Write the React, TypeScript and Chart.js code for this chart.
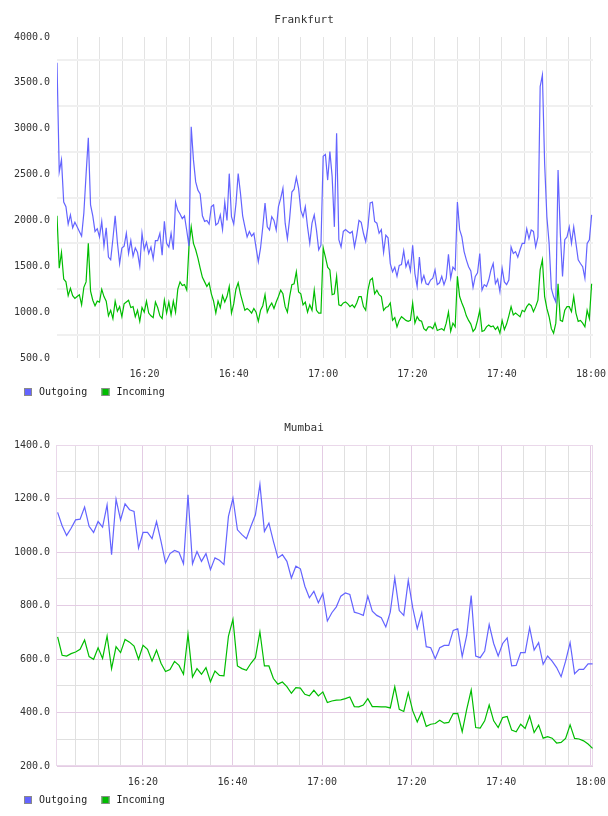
import React, { useEffect, useRef } from "react";
import { Chart, registerables } from "chart.js";

Chart.register(...registerables);

// Sample times are minutes after 16:00.
const FRANKFURT_START = 0.4;
const FRANKFURT_STEP = 0.501;

const frankfurtOutgoing = [
  3720, 2530, 2660, 2200, 2150, 1960, 2060, 1920, 1980, 1930,
  1880, 1830, 2080, 2500, 2900, 2170, 2050, 1880, 1910, 1820,
  1990, 1720, 1920, 1600, 1570, 1800, 2050, 1760, 1530, 1700,
  1720, 1860, 1640, 1780, 1610, 1700, 1650, 1500, 1860, 1680,
  1760, 1640, 1710, 1580, 1780, 1780, 1860, 1620, 1990, 1750,
  1710, 1860, 1680, 2200, 2110, 2070, 2020, 2050, 1890, 1720,
  3020, 2660, 2420, 2330, 2290, 2050, 1990, 2000, 1960, 2150,
  2170, 1950, 1970, 2060, 1900, 2200, 2000, 2510, 2040, 1960,
  2180, 2510,
  2300, 2050, 1930, 1820, 1880, 1830, 1860, 1700, 1550, 1700,
  1930, 2190, 1930, 1895, 2040, 2000, 1895, 2150, 2240, 2350,
  1970, 1800, 2020, 2310, 2340, 2470, 2350, 2110, 2040, 2150,
  1930, 1750, 1970, 2060, 1895, 1680, 1730, 2700, 2720, 2440,
  2750, 2480, 1930, 2950, 1790, 1710, 1880, 1900, 1880, 1860,
  1880, 1710, 1840, 2000, 1980, 1860, 1770, 1930, 2190, 2200,
  1990, 1970, 1860, 1900, 1650, 1840, 1810, 1530, 1440, 1490,
  1390, 1510, 1520, 1670, 1495, 1560, 1450, 1730, 1420, 1280,
  1600, 1330, 1400, 1310, 1300,
  1350, 1370, 1460, 1300, 1320, 1390, 1300, 1370, 1630, 1370,
  1490, 1460, 2200, 1900, 1820, 1660, 1570, 1495, 1450, 1270,
  1390, 1430, 1640, 1240, 1300, 1280, 1350, 1460, 1530, 1310,
  1360, 1225, 1480, 1330, 1300, 1350, 1710, 1640, 1660, 1600,
  1680, 1750, 1750, 1910, 1800, 1895, 1880, 1710, 1820, 3460,
  3585, 2620, 2040, 1750, 1260, 1170, 1110, 2550, 1860, 1390,
  1790, 1820, 1930, 1750, 1930, 1750, 1570, 1530, 1495, 1370,
  1750, 1790, 2060,
];

const frankfurtIncoming = [
  2050, 1480, 1650, 1360, 1330, 1180, 1260, 1180, 1150, 1170,
  1190, 1080, 1270, 1330, 1750, 1230, 1130, 1070, 1120, 1110,
  1250, 1170, 1120, 960, 1020, 930, 1120, 1010, 1060, 950,
  1090, 1110, 1130, 1050, 1060, 950, 1020, 900, 1050, 1000,
  1120, 990, 960, 940, 1110, 1050, 960, 930, 1130, 990,
  1110, 970, 1120, 1000, 1250, 1330, 1290, 1300, 1240, 1720,
  1930, 1750, 1680, 1590, 1480, 1380, 1330, 1280, 1320, 1200,
  1120, 990, 1120, 1050, 1180, 1110, 1170, 1280, 990, 1090,
  1250, 1320,
  1200, 1110, 1020, 1040, 1020, 990, 1040, 1000, 900, 1020,
  1070, 1190, 1000, 1060, 1100, 1040, 1110, 1170, 1240, 1200,
  1060, 1000, 1170, 1300, 1310, 1440, 1220, 1200, 1080, 1110,
  1000, 1080, 1020, 1240, 1020, 990, 990, 1700, 1600, 1490,
  1460, 1190, 1200, 1390, 1080, 1070, 1100, 1110, 1090, 1060,
  1080, 1050, 1100, 1170, 1170, 1060, 1020, 1240, 1350, 1370,
  1200, 1240, 1190, 1170, 1020, 1050, 1060, 1100, 910, 940,
  840, 910, 950, 930, 910, 900, 910, 1100, 880, 950,
  910, 900, 820, 800, 840,
  840, 820, 880, 800, 810, 820, 800, 880, 1000, 790,
  880, 840, 1390, 1170, 1100, 1040, 960, 910, 870, 790,
  820, 910, 1020, 790, 800, 840, 860, 840, 850, 810,
  840, 770, 910, 810, 870, 960, 1060, 970, 990, 970,
  950, 1020, 1005, 1060, 1090, 1070, 1005, 1060, 1130, 1460,
  1570, 1170, 1040, 950, 820, 770, 880, 1310, 910, 900,
  1020, 1060, 1060, 1005, 1170, 990, 900, 910, 880, 840,
  1020, 930, 1310,
];

const MUMBAI_START = 0.95;
const MUMBAI_STEP = 1.004;

const mumbaiOutgoing = [
  1148, 1098, 1062, 1089, 1120, 1123, 1168, 1096, 1073, 1114,
  1093, 1176, 990, 1197, 1120, 1180, 1158, 1152, 1015, 1073,
  1073, 1050, 1114, 1040, 959, 994, 1006, 999, 956, 1214,
  956, 1002, 965, 994, 934, 978, 969, 953, 1133,
  1201, 1083, 1065, 1050, 1096, 1139, 1253, 1077, 1108, 1040,
  978, 990, 965, 903, 947, 937, 872, 829, 853, 810,
  845, 742, 773, 795, 835, 847, 841, 775, 770, 763,
  835, 779, 763, 754, 720, 775, 903, 781, 763, 894,
  791,
  713, 773, 646, 642, 601, 642, 651, 651, 707, 713,
  609, 688, 837, 611, 605, 630, 729, 658, 611, 658,
  679, 574, 576, 624, 624, 717, 633, 661, 580, 611,
  592, 568, 534, 592, 661, 545, 561, 561, 582, 582,
];

const mumbaiIncoming = [
  683, 614, 611, 620, 626, 636, 671, 609, 599, 642,
  602, 686, 564, 646, 624, 673, 663, 648, 599, 651,
  636, 592, 633, 584, 553, 561, 591, 576, 543, 692,
  533, 564, 543, 568, 515, 555, 539, 537, 686,
  748, 574, 564, 558, 584, 605, 701, 574, 574, 527,
  506, 514, 497, 472, 493, 491, 468, 462, 483, 462,
  477, 437, 443, 446, 447, 452, 458, 422, 421, 428,
  452, 422, 422, 421, 421, 417, 496, 412, 404, 474,
  406,
  365, 402, 348, 356, 359, 371, 360, 363, 396, 397,
  328, 412, 484, 344, 342, 369, 428, 369, 344, 381,
  385, 334, 328, 356, 340, 387, 325, 353, 304, 310,
  304, 286, 288, 303, 354, 303, 301, 294, 282, 266,
];

const seriesLabels = ["Outgoing", "Incoming"];
const seriesColors = ["#6464ff", "#00bd00"];

const MONO = '"DejaVu Sans Mono", monospace';

function toPoints(values: number[], start: number, step: number) {
  return values.map((v, i) => ({ x: start + i * step, y: v }));
}

function clockLabel(minutes: number) {
  const total = 16 * 60 + Math.round(minutes);
  const h = Math.floor(total / 60);
  const m = total % 60;
  return `${h}:${String(m).padStart(2, "0")}`;
}

// Title above the plot, legend below it, optional frame around the plot area.
const decorPlugin = {
  id: "decor",
  beforeDatasetsDraw(chart: any, _args: any, opts: any) {
    if (!opts.frame) return;
    const { left, top, right, bottom } = chart.chartArea;
    const ctx = chart.ctx;
    ctx.save();
    ctx.strokeStyle = opts.frame;
    ctx.lineWidth = 1;
    ctx.strokeRect(Math.round(left) - 0.5, Math.round(top) + 0.5, Math.round(right - left), Math.round(bottom - top) - 1);
    ctx.restore();
  },
  afterDraw(chart: any, _args: any, opts: any) {
    const ctx = chart.ctx;
    ctx.save();
    ctx.font = `11px ${MONO}`;
    ctx.fillStyle = "#333";
    ctx.textAlign = "center";
    ctx.textBaseline = "middle";
    ctx.fillText(opts.title, chart.width / 2, 20.5);

    ctx.font = `10px ${MONO}`;
    ctx.textAlign = "left";
    let x = 24;
    chart.data.datasets.forEach((ds: any) => {
      ctx.fillStyle = ds.borderColor;
      ctx.fillRect(x, 388, 8, 8);
      ctx.strokeStyle = "#8a8a8a";
      ctx.lineWidth = 1;
      ctx.strokeRect(x + 0.5, 388.5, 7, 7);
      ctx.fillStyle = "#222";
      ctx.fillText(ds.label, x + 15, 392.5);
      x += 77.5;
    });
    ctx.restore();
  },
};

type PanelProps = {
  title: string;
  outgoing: number[];
  incoming: number[];
  start: number;
  step: number;
  xMin: number;
  xMax: number;
  yMin: number;
  yMax: number;
  yStep: number;
  yLabelStep: number;
  variant: "plain" | "framed";
};

function Panel(p: PanelProps) {
  const ref = useRef<HTMLCanvasElement | null>(null);

  useEffect(() => {
    if (!ref.current) return;
    const framed = p.variant === "framed";
    const major = "#e4cce4";
    const minor = "#e0e0e0";

    const chart = new Chart(ref.current, {
      type: "line",
      data: {
        datasets: [
          {
            label: seriesLabels[0],
            data: toPoints(p.outgoing, p.start, p.step),
            borderColor: seriesColors[0],
            backgroundColor: seriesColors[0],
            borderWidth: 1.2,
            pointRadius: 0,
            tension: 0,
            fill: false,
          },
          {
            label: seriesLabels[1],
            data: toPoints(p.incoming, p.start, p.step),
            borderColor: seriesColors[1],
            backgroundColor: seriesColors[1],
            borderWidth: 1.2,
            pointRadius: 0,
            tension: 0,
            fill: false,
          },
        ],
      },
      options: {
        responsive: false,
        animation: false,
        events: [],
        layout: { padding: { top: 37, right: 15, bottom: 20, left: 0 } },
        scales: {
          x: {
            type: "linear",
            min: p.xMin,
            max: p.xMax,
            border: { display: false },
            grid: {
              drawTicks: true,
              tickLength: 10,
              tickColor: "rgba(0,0,0,0)",
              lineWidth: 1,
              color: (c: any) =>
                framed ? (c.tick && c.tick.value % 20 === 0 ? major : minor) : "#e3e3e3",
            },
            ticks: {
              stepSize: 5,
              includeBounds: false,
              autoSkip: false,
              maxRotation: 0,
              padding: 0,
              color: "#333",
              font: { family: MONO, size: 10 },
              callback: (v: any) => (Number(v) % 20 === 0 ? clockLabel(Number(v)) : ""),
            },
            afterFit: (s: any) => {
              s.height = 30;
            },
          },
          y: {
            min: p.yMin,
            max: p.yMax,
            border: { display: false },
            grid: {
              drawTicks: false,
              lineWidth: framed ? 1 : 2,
              color: (c: any) => {
                const onLabel = c.tick && c.tick.value % p.yLabelStep === 0;
                if (framed) return onLabel ? major : minor;
                return onLabel ? "rgba(0,0,0,0)" : "#f0f0f0";
              },
            },
            ticks: {
              stepSize: p.yStep,
              autoSkip: false,
              padding: 7,
              color: "#333",
              font: { family: MONO, size: 10 },
              callback: (v: any) => (Number(v) % p.yLabelStep === 0 ? Number(v).toFixed(1) : ""),
            },
            afterFit: (s: any) => {
              s.width = 57;
            },
          },
        },
        plugins: {
          legend: { display: false },
          title: { display: false },
          tooltip: { enabled: false },
          decor: { title: p.title, frame: framed ? "#ead8ea" : null },
        } as any,
      },
      plugins: [decorPlugin],
    });

    return () => chart.destroy();
  }, []);

  return <canvas ref={ref} width={608} height={408} style={{ display: "block" }} />;
}

export default function App() {
  return (
    <div style={{ position: "absolute", left: 0, top: 0, width: 608, height: 816, background: "#fff" }}>
      <Panel
        title="Frankfurt"
        outgoing={frankfurtOutgoing}
        incoming={frankfurtIncoming}
        start={FRANKFURT_START}
        step={FRANKFURT_STEP}
        xMin={0.4}
        xMax={120.45}
        yMin={500}
        yMax={4000}
        yStep={250}
        yLabelStep={500}
        variant="plain"
      />
      <Panel
        title="Mumbai"
        outgoing={mumbaiOutgoing}
        incoming={mumbaiIncoming}
        start={MUMBAI_START}
        step={MUMBAI_STEP}
        xMin={0.81}
        xMax={120.52}
        yMin={200}
        yMax={1400}
        yStep={100}
        yLabelStep={200}
        variant="framed"
      />
    </div>
  );
}
